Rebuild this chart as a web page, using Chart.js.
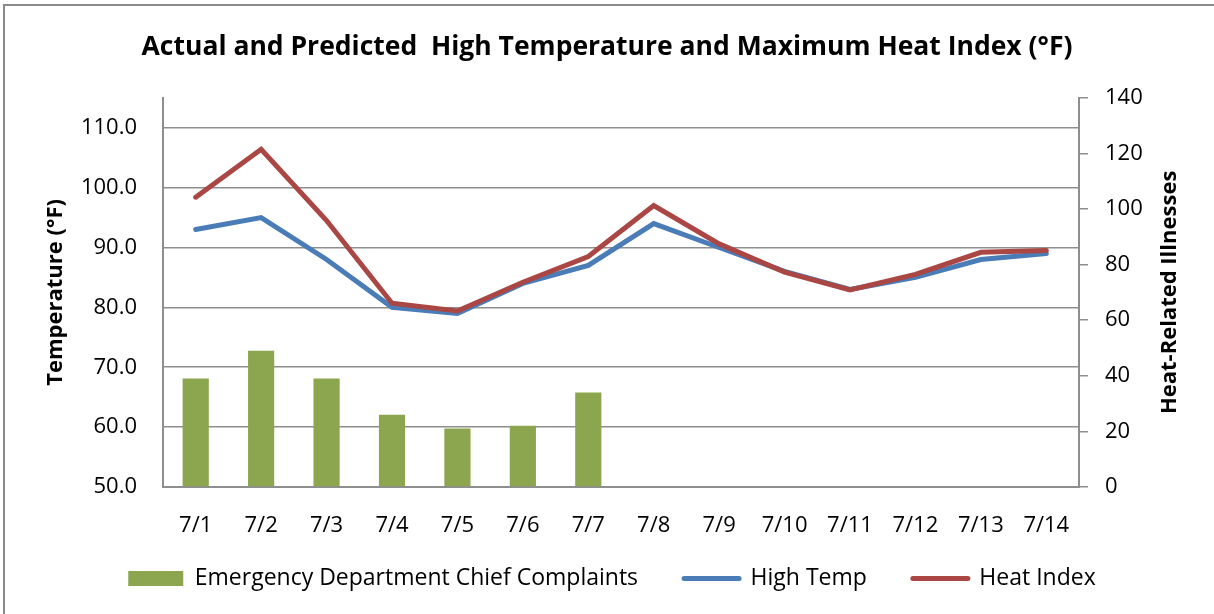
<!DOCTYPE html>
<html>
<head>
<meta charset="utf-8">
<script src="https://cdn.jsdelivr.net/npm/chart.js@4"></script>
<style>
  html, body { margin: 0; background: #fff; overflow: hidden; }
  #wrap { position: relative; width: 1214px; height: 614px; }
  #chart { display: block; }
  #frame { position: absolute; left: 3px; top: 4px; right: 0; bottom: 0;
           border-top: 2px solid #8a8a8a; border-left: 2px solid #8a8a8a; pointer-events: none; }
</style>
</head>
<body>
<div id="wrap">
  <canvas id="chart" width="1214" height="614"></canvas>
  <div id="frame"></div>
</div>
<script>
// data
const days = ['7/1', '7/2', '7/3', '7/4', '7/5', '7/6', '7/7', '7/8', '7/9', '7/10', '7/11', '7/12', '7/13', '7/14'];
const complaints = [39, 49, 39, 26, 21, 22, 34, null, null, null, null, null, null, null];
const highTemp = [93, 95, 88, 80, 79, 84, 87, 94, 90, 86, 83, 85, 88, 89];
const heatIndex = [98.4, 106.4, 94.5, 80.7, 79.4, 84.2, 88.5, 97, 90.6, 85.9, 82.9, 85.5, 89.2, 89.5];

const FONT = '"Open Sans", "Liberation Sans", sans-serif';
const GRID = '#8e8e8e';

// legend sits lower than its padding would put it
const LEGEND_H = 79;
const LEGEND_DY = -14;

const legendShift = {
  id: 'legendShift',
  beforeLayout(chart) {
    const lg = chart.legend;
    if (!lg || lg._shifted) return;
    lg._shifted = true;
    const fit = lg.fit;
    lg.fit = function () { fit.call(this); this.height = LEGEND_H; };
    const draw = lg.draw;
    lg.draw = function () {
      const c = this.ctx;
      c.save();
      c.translate(5, LEGEND_DY);
      draw.apply(this, arguments);
      c.restore();
    };
  }
};

// right axis title reads bottom-to-top, like the left one
const rightTitle = {
  id: 'rightTitle',
  afterDraw(chart) {
    const ctx = chart.ctx;
    const a = chart.chartArea;
    ctx.save();
    ctx.translate(1170, (a.top + a.bottom) / 2);
    ctx.rotate(-Math.PI / 2);
    ctx.font = 'bold 22px ' + FONT;
    ctx.fillStyle = '#000';
    ctx.textAlign = 'center';
    ctx.textBaseline = 'middle';
    ctx.fillText('Heat-Related Illnesses', 0, 0);
    ctx.restore();
  }
};

new Chart(document.getElementById('chart'), {
  data: {
    labels: days,
    datasets: [
      {
        type: 'bar',
        label: 'Emergency Department Chief Complaints',
        data: complaints,
        yAxisID: 'y2',
        backgroundColor: '#8ba64e',
        categoryPercentage: 0.8,
        barPercentage: 0.5,
        order: 2
      },
      {
        type: 'line',
        label: 'High Temp',
        data: highTemp,
        yAxisID: 'y',
        borderColor: '#4a7db8',
        backgroundColor: '#4a7db8',
        borderWidth: 5,
        pointRadius: 0,
        borderCapStyle: 'round',
        borderJoinStyle: 'miter',
        order: 1
      },
      {
        type: 'line',
        label: 'Heat Index',
        data: heatIndex,
        yAxisID: 'y',
        borderColor: '#aa4643',
        backgroundColor: '#aa4643',
        borderWidth: 5,
        pointRadius: 0,
        borderCapStyle: 'round',
        borderJoinStyle: 'miter',
        order: 0
      }
    ]
  },
  options: {
    responsive: false,
    animation: false,
    devicePixelRatio: 1,
    layout: { padding: 0 },
    plugins: {
      tooltip: { enabled: false },
      title: {
        display: true,
        text: 'Actual and Predicted  High Temperature and Maximum Heat Index (°F)',
        color: '#000',
        font: { family: FONT, size: 26.5, weight: 'bold', lineHeight: 1.2 },
        padding: { top: 32, bottom: 34 }
      },
      legend: {
        position: 'bottom',
        labels: {
          color: '#000',
          font: { family: FONT, size: 23 },
          usePointStyle: true,
          pointStyleWidth: 55,
          boxHeight: 15,
          padding: 46,
          sort: (a, b) => a.datasetIndex - b.datasetIndex,
          generateLabels(chart) {
            const items = Chart.defaults.plugins.legend.labels.generateLabels(chart);
            items.forEach(it => {
              if (it.datasetIndex === 0) {
                it.pointStyle = 'rect';
                it.lineWidth = 0;
              } else {
                it.pointStyle = 'line';
                it.lineWidth = 5;
                it.lineCap = 'round';
              }
            });
            return items;
          }
        }
      }
    },
    scales: {
      x: {
        offset: true,
        grid: { display: false },
        border: { display: true, color: GRID, width: 2 },
        ticks: { color: '#000', font: { family: FONT, size: 22 }, padding: 18, maxRotation: 0, autoSkip: false },
        afterFit(s) { s.height = 48; }
      },
      y: {
        position: 'left',
        min: 50,
        max: 115,
        grid: { color: GRID, lineWidth: 1.5, drawTicks: false },
        border: { display: true, color: GRID, width: 2 },
        ticks: {
          stepSize: 10,
          includeBounds: false,
          color: '#000',
          font: { family: FONT, size: 22 },
          padding: 26,
          callback: v => v.toFixed(1)
        },
        title: {
          display: true,
          text: 'Temperature (°F)',
          color: '#000',
          font: { family: FONT, size: 22, weight: 'bold', lineHeight: 1.2 },
          padding: { top: 43, bottom: 0 }
        },
        afterFit(s) { s.width = 163; }
      },
      y2: {
        position: 'right',
        min: 0,
        max: 140,
        grid: { drawOnChartArea: false, drawTicks: true, tickLength: 9, color: GRID, lineWidth: 1.5 },
        border: { display: true, color: GRID, width: 2 },
        ticks: { stepSize: 20, color: '#000', font: { family: FONT, size: 22 }, padding: 17 },
        afterFit(s) { s.width = 135; }
      }
    }
  },
  plugins: [legendShift, rightTitle]
});
</script>
</body>
</html>
